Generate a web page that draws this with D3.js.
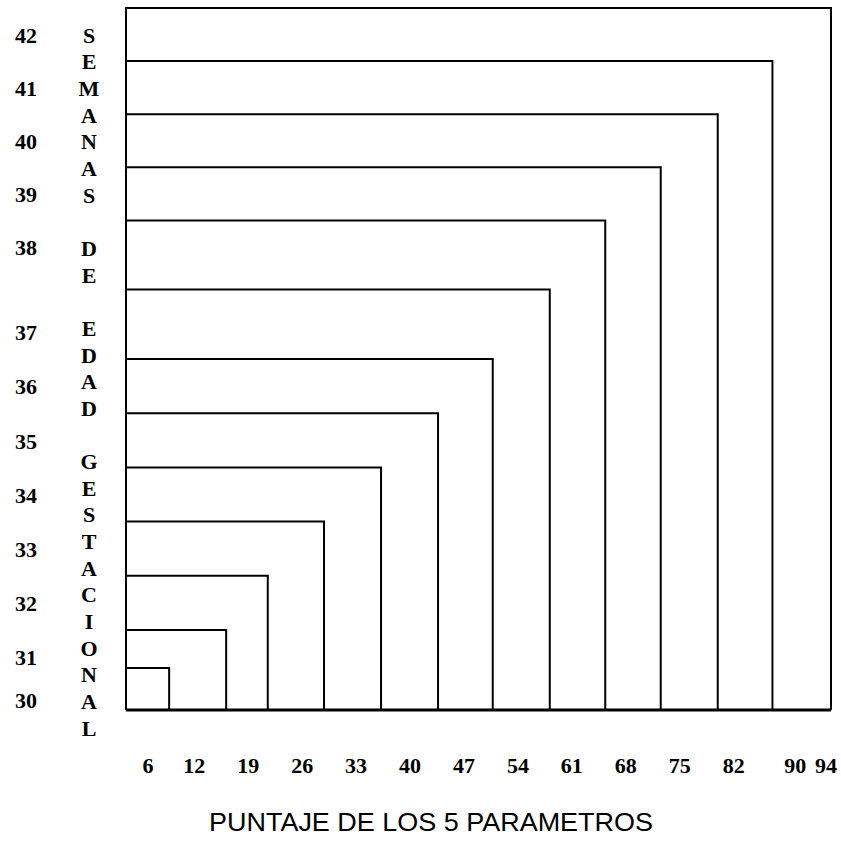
<!DOCTYPE html>
<html>
<head>
<meta charset="utf-8">
<script src="https://cdn.jsdelivr.net/npm/d3@7"></script>
<style>
  body { margin: 0; background: #fff; }
  svg { display: block; }
</style>
</head>
<body>
<div id="chart"></div>
<script>
// gestational weeks, one nested box per week
const weeks = [30, 31, 32, 33, 34, 35, 36, 37, 38, 39, 40, 41, 42];
// right edge of each box, on the score scale
const edgeScores = [8.8, 16.2, 21.6, 28.9, 36.3, 43.7, 50.8, 58.2, 65.4, 72.6, 80.0, 87.1, 94.7];
// score labels under the chart
const scoreTicks = [6, 12, 19, 26, 33, 40, 47, 54, 61, 68, 75, 82, 90, 94];
const scoreMin = 3.2;

const yTitle = "SEMANAS DE EDAD GESTACIONAL";
const xTitle = "PUNTAJE DE LOS 5 PARAMETROS";

const width = 841, height = 844;
const serif = "'Liberation Serif', 'Times New Roman', serif";

const svg = d3.select("#chart")
    .append("svg")
    .attr("width", width)
    .attr("height", height);

let xScale = d3.scaleLinear()
    .domain([scoreMin, d3.max(edgeScores)])
    .range([126, 831]);

// week spacing is not even in the original, so use a polylinear scale
let yScale = d3.scaleLinear()
    .domain([29.5, 30, 30.5, 31, 37, 38, 42.5])
    .range([710, 700, 668, 657, 332, 247, 8]);

const boxes = weeks.map((w, i) => ({ week: w, edge: edgeScores[i] }));

const line = d3.line();

// nested step boxes
svg.append("g")
    .selectAll("path")
    .data(boxes)
    .enter()
    .append("path")
    .attr("d", (d) => line([
        [xScale(scoreMin), yScale(29.5)],
        [xScale(scoreMin), yScale(d.week + 0.5)],
        [xScale(d.edge), yScale(d.week + 0.5)],
        [xScale(d.edge), yScale(29.5)]
    ]))
    .attr("fill", "none")
    .attr("stroke", "#000")
    .attr("stroke-width", 2);

// heavier baseline
svg.append("path")
    .attr("d", line([[xScale(scoreMin), yScale(29.5)], [xScale(d3.max(edgeScores)), yScale(29.5)]]))
    .attr("stroke", "#000")
    .attr("stroke-width", 3);

// x labels
svg.append("g")
    .attr("transform", `translate(0, 765)`)
    .call(d3.axisBottom(xScale).tickValues(scoreTicks).tickSize(0).tickFormat(d3.format("d")))
    .call((g) => g.select(".domain").remove())
    .call((g) => g.selectAll("text")
        .attr("y", 0)
        .attr("dy", "0.35em")
        .attr("fill", "#000")
        .style("font-family", serif)
        .style("font-weight", "bold")
        .style("font-size", "22px"));

// y labels
svg.append("g")
    .attr("transform", `translate(26, 0)`)
    .call(d3.axisLeft(yScale).tickValues(weeks).tickSize(0).tickFormat(d3.format("d")))
    .call((g) => g.select(".domain").remove())
    .call((g) => g.selectAll("text")
        .attr("x", 0)
        .attr("dy", "0.35em")
        .attr("text-anchor", "middle")
        .attr("fill", "#000")
        .style("font-family", serif)
        .style("font-weight", "bold")
        .style("font-size", "22px"));

// vertical y title, one letter per line
svg.append("g")
    .selectAll("text")
    .data(yTitle.split(""))
    .enter()
    .append("text")
    .attr("x", 89)
    .attr("y", (d, i) => 35 + i * 26.65)
    .attr("dy", "0.35em")
    .attr("text-anchor", "middle")
    .style("font-family", serif)
    .style("font-weight", "bold")
    .style("font-size", "22px")
    .text((d) => d);

// x title
svg.append("text")
    .attr("x", 431)
    .attr("y", 822)
    .attr("dy", "0.35em")
    .attr("text-anchor", "middle")
    .attr("textLength", 444)
    .attr("lengthAdjust", "spacingAndGlyphs")
    .style("font-family", "'Liberation Sans', Arial, sans-serif")
    .style("font-size", "26px")
    .text(xTitle);
</script>
</body>
</html>
